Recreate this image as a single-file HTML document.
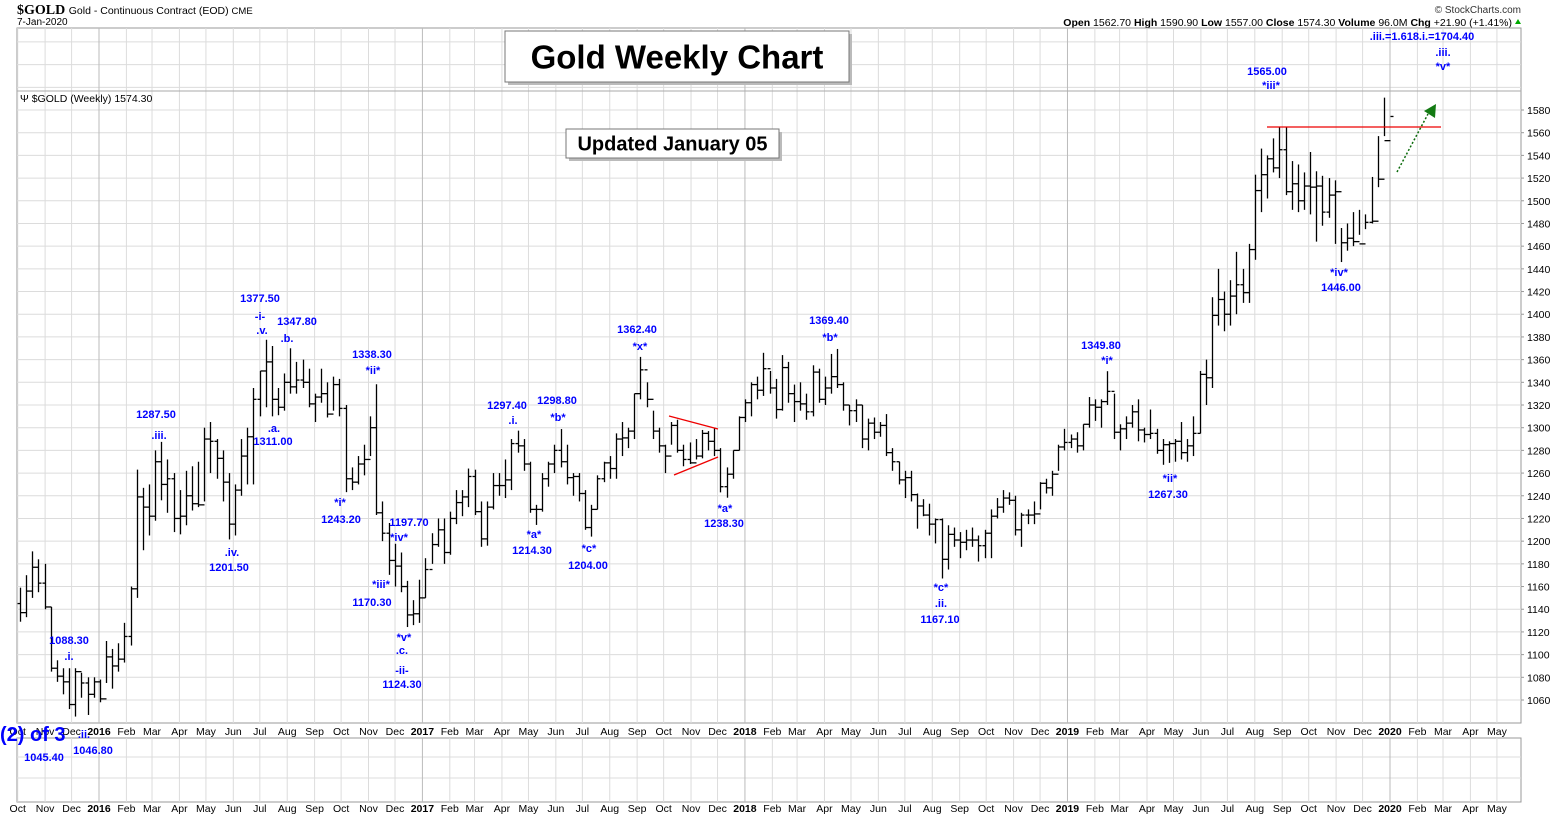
<!DOCTYPE html>
<html><head><meta charset="utf-8">
<style>
html,body{margin:0;padding:0;background:#fff;}
svg{display:block;font-family:"Liberation Sans",Arial,sans-serif;}
.ann{fill:#0000ff;font-weight:bold;font-size:11px;text-anchor:middle;}
.ax{font-size:10.5px;fill:#000;}
</style></head>
<body>
<svg id="chart" width="1565" height="817" viewBox="0 0 1565 817" xmlns="http://www.w3.org/2000/svg">
<g>
<text x="17" y="14" font-family="Liberation Serif,serif" font-weight="bold" font-size="14">$GOLD <tspan font-family="Liberation Sans,sans-serif" font-weight="normal" font-size="10.5">Gold - Continuous Contract (EOD) <tspan font-size="9.5">CME</tspan></tspan></text>
<text x="17" y="25" font-size="10">7-Jan-2020</text>
<text x="1521" y="13" font-size="10" text-anchor="end" fill="#333">© StockCharts.com</text>
<text x="1512" y="26" font-size="10.5" text-anchor="end"><tspan font-weight="bold">Open</tspan> 1562.70 <tspan font-weight="bold">High</tspan> 1590.90 <tspan font-weight="bold">Low</tspan> 1557.00 <tspan font-weight="bold">Close</tspan> 1574.30 <tspan font-weight="bold">Volume</tspan> 96.0M <tspan font-weight="bold">Chg</tspan> +21.90 (+1.41%)</text>
<polygon points="1515,24 1521,24 1518,19" fill="#0a0"/>
</g>
<g id="grid"></g>
<g id="bars"></g>
<g id="overlay"></g>
</svg>
<script>
// weekly bars, Oct 2015 .. Jan 2020
const highs=[1159,1170,1191,1184,1180,1142,1095,1088,1088,1088,1084,1080,1080,1078,1112,1105,1110,1128,1160,1263,1247,1250,1280,1287.5,1272,1260,1245,1262,1266,1270,1300,1305,1290,1280,1260,1250,1290,1300,1335,1350,1377.5,1372,1335,1347.8,1370,1358,1360,1352,1330,1352,1340,1345,1343,1320,1265,1275,1285,1310,1338.3,1235,1216,1197.7,1190,1165,1148,1166,1185,
1207,1220,1220,1226,1245,1245,1264,1263,1235,1235,1260,1260,1272,1290,1297.4,1290,1270,1232,1260,1270,1285,1298.8,1285,1260,1260,1245,1232,1258,1270,1275,1295,1305,1300,1330,1362.4,1340,1315,1300,1285,1305,1307,1285,1287,1290,1298,1297,1300,1282,1265,1280,1310,
1325,1340,1345,1366,1350,1343,1364,1358,1338,1340,1330,1355,1352,1345,1365,1369.4,1340,1320,1325,1320,1308,1309,1305,1312,1282,1270,1262,1262,1242,1237,1233,1220,1220,1214,1212,1208,1210,1212,1205,1210,1228,1238,1245,1243,1240,1225,1228,1235,1252,1255,1262,1285,
1299,1294,1296,1303,1327,1325,1325,1349.8,1330,1303,1310,1320,1325,1300,1316,1299,1290,1288,1290,1305,1290,1310,1350,1360,1415,1440,1420,1430,1455,1440,1462,1523,1546,1540,1555,1565,1565,1535,1532,1525,1543,1526,1522,1520,1518,1476,1480,1490,1492,1488,1521,1557,1590.9];
const lows=[1129,1133,1150,1155,1140,1085,1076,1065,1052,1045.4,1062,1046.8,1062,1058,1075,1070,1085,1093,1108,1150,1192,1205,1218,1236,1225,1208,1206,1214,1227,1230,1235,1260,1255,1235,1201.5,1205,1240,1250,1250,1310,1318,1310,1311,1315,1330,1330,1335,1318,1305,1322,1309,1315,1310,1243.2,1245,1250,1258,1275,1223,1200,1170.3,1160,1155,1124.3,1126,1128,1150,
1180,1195,1180,1188,1215,1222,1230,1223,1195,1196,1228,1240,1238,1245,1278,1262,1225,1214.3,1226,1248,1260,1265,1250,1240,1235,1210,1204,1228,1252,1255,1255,1275,1282,1290,1325,1318,1290,1278,1260,1285,1278,1266,1268,1272,1273,1280,1275,1243,1238.3,1255,1280,
1305,1310,1325,1328,1330,1308,1315,1322,1305,1315,1307,1310,1322,1320,1330,1335,1315,1302,1305,1282,1280,1290,1292,1275,1262,1250,1238,1235,1211,1222,1205,1198,1167.1,1175,1195,1185,1192,1195,1182,1185,1185,1220,1225,1232,1205,1195,1215,1215,1228,1242,1240,1262,
1280,1282,1278,1280,1300,1306,1300,1320,1290,1280,1290,1300,1288,1287,1290,1277,1267.3,1269,1270,1272,1270,1275,1295,1320,1335,1390,1385,1390,1400,1410,1410,1448,1490,1502,1525,1520,1505,1492,1490,1492,1488,1464,1478,1485,1462,1446,1456,1460,1470,1475,1480,1512,1557];
const closes=[1137,1156,1177,1163,1142,1088,1081,1076,1056,1085,1075,1065,1076,1061,1098,1090,1096,1116,1158,1239,1230,1222,1270,1250,1255,1220,1222,1240,1233,1232,1290,1288,1273,1252,1215,1245,1275,1292,1325,1350,1358,1325,1318,1340,1336,1342,1340,1321,1327,1330,1312,1338,1317,1255,1252,1268,1272,1300,1225,1207,1183,1178,1160,1135,1136,1150,1175,
1197,1210,1190,1220,1234,1239,1257,1226,1202,1230,1249,1249,1254,1286,1284,1268,1228,1228,1255,1268,1280,1270,1256,1257,1242,1212,1228,1255,1269,1264,1290,1291,1297,1330,1351,1325,1297,1284,1275,1302,1280,1272,1269,1275,1295,1288,1280,1248,1259,1280,1309,
1322,1338,1333,1352,1335,1316,1353,1330,1323,1321,1314,1349,1325,1335,1345,1338,1320,1315,1320,1290,1304,1296,1302,1278,1270,1254,1256,1241,1231,1223,1215,1219,1184,1206,1201,1199,1201,1201,1196,1207,1222,1230,1238,1236,1210,1223,1223,1224,1251,1247,1259,1283,
1287,1290,1284,1303,1320,1318,1323,1332,1296,1299,1304,1314,1298,1294,1295,1280,1285,1286,1288,1278,1284,1295,1347,1344,1399,1413,1400,1416,1426,1419,1457,1509,1523,1537,1529,1545,1508,1515,1500,1513,1512,1513,1490,1505,1508,1463,1467,1464,1462,1481,1482,1519,1553,1574.3];
const firstOpen=1145;
const yTicks=[1060,1080,1100,1120,1140,1160,1180,1200,1220,1240,1260,1280,1300,1320,1340,1360,1380,1400,1420,1440,1460,1480,1500,1520,1540,1560,1580];
const monthLabels=["Oct","Nov","Dec","2016","Feb","Mar","Apr","May","Jun","Jul","Aug","Sep","Oct","Nov","Dec","2017","Feb","Mar","Apr","May","Jun","Jul","Aug","Sep","Oct","Nov","Dec","2018","Feb","Mar","Apr","May","Jun","Jul","Aug","Sep","Oct","Nov","Dec","2019","Feb","Mar","Apr","May","Jun","Jul","Aug","Sep","Oct","Nov","Dec","2020","Feb","Mar","Apr","May"];

const NS="http://www.w3.org/2000/svg";
const L=17,R=1521,TOP=28,BOT=723;
function y(p){return 700-(p-1060)*1.1346;}
const n=closes.length;
function x(i){return 20+i*(1390-20)/(n-1);}
function xm(k){
  const d=new Date(Date.UTC(2015,9+k,1));
  return 99+(d-Date.UTC(2016,0,1))/86400000/365.25*322.75;
}
function mk(tag,attrs,parent){const e=document.createElementNS(NS,tag);for(const k in attrs)e.setAttribute(k,attrs[k]);parent.appendChild(e);return e;}
const grid=document.getElementById('grid'),bars=document.getElementById('bars'),ov=document.getElementById('overlay');

let e=mk('rect',{x:L,y:TOP,width:R-L,height:BOT-TOP,fill:'#fff',stroke:'#999'},grid);


e=mk('rect',{x:L,y:738,width:R-L,height:64,fill:'#fff',stroke:'#999'},grid);


for(let p=1060;p<=1660;p+=20){const yy=y(p);if(yy<TOP||yy>BOT)continue;
  e=mk('line',{x1:L,x2:R,y1:yy,y2:yy,stroke:'#dcdcdc'},grid);
  
  }
[757,778].forEach(yy=>{e=mk('line',{x1:L,x2:R,y1:yy,y2:yy,stroke:'#dcdcdc'},grid);
  
  });
monthLabels.forEach((lab,k)=>{const xx=xm(k);if(xx>R)return;
  const yr=/^\d{4}$/.test(lab);
  e=mk('line',{x1:xx,x2:xx,y1:TOP,y2:BOT,stroke:yr?'#bbb':'#dcdcdc'},grid);
  
  
  e=mk('line',{x1:xx,x2:xx,y1:738,y2:802,stroke:yr?'#bbb':'#dcdcdc'},grid);
  
  
  [735,812].forEach(ty=>{
    const t=mk('text',{x:xx,y:ty,'text-anchor':'middle',class:'ax','font-weight':yr?'bold':'normal'},grid);
    t.textContent=lab;
    
    });
});
e=mk('line',{x1:L,x2:R,y1:91,y2:91,stroke:'#aaa'},grid);


yTicks.forEach(p=>{const t=mk('text',{x:1527,y:y(p)+4,class:'ax'},grid);t.textContent=p;
  
  
  e=mk('line',{x1:R,x2:R+3,y1:y(p),y2:y(p),stroke:'#999'},grid);
  
  });
let t=mk('text',{x:20,y:102,'font-size':'10.5'},grid);t.textContent='\u03A8 $GOLD (Weekly) 1574.30';



for(let i=0;i<n;i++){
  const xx=Math.round(x(i))+0.5,op=i?closes[i-1]:firstOpen;
  const g=mk('g',{stroke:'#000','stroke-width':1.3},bars);
  
  
  mk('line',{x1:xx,x2:xx,y1:y(highs[i]),y2:y(lows[i])},g);
  mk('line',{x1:xx-3,x2:xx,y1:y(op),y2:y(op)},g);
  mk('line',{x1:xx,x2:xx+3,y1:y(closes[i]),y2:y(closes[i])},g);
}

const anns=[["1088.30",69,644],[".i.",69,660],["1045.40",44,761],[".ii.",84,738],["1046.80",93,754],
["1287.50",156,418],[".iii.",159,439],["1377.50",260,302],["-i-",260,320],[".v.",262,334],["1347.80",297,325],[".b.",287,342],
[".a.",274,432],["1311.00",273,445],[".iv.",232,556],["1201.50",229,571],["1338.30",372,358],["*ii*",373,374],
["*i*",340,506],["1243.20",341,523],["1197.70",409,526],["*iv*",399,541],["*iii*",381,588],["1170.30",372,606],
["*v*",404,641],[".c.",402,654],["-ii-",402,674],["1124.30",402,688],["1297.40",507,409],[".i.",513,424],
["1298.80",557,404],["*b*",558,421],["*a*",534,538],["1214.30",532,554],["*c*",589,552],["1204.00",588,569],
["1362.40",637,333],["*x*",640,350],["*a*",725,512],["1238.30",724,527],["1369.40",829,324],["*b*",830,341],
["*c*",941,591],[".ii.",941,607],["1167.10",940,623],["1349.80",1101,349],["*i*",1107,364],["*ii*",1170,482],["1267.30",1168,498],
["1565.00",1267,75],["*iii*",1271,89],["*iv*",1339,276],["1446.00",1341,291],[".iii.=1.618.i.=1704.40",1422,40],[".iii.",1443,56],["*v*",1443,70]];
anns.forEach(a=>{const t=mk('text',{x:a[1],y:a[2],class:'ann'},ov);t.textContent=a[0];
  
  });
t=mk('text',{x:0,y:741,fill:'#0000ff','font-weight':'bold','font-size':'20'},ov);t.textContent='(2) of 3';



[[669,416,718,429],[674,475,718,457],[1267,127,1441,127]].forEach(s=>{
  e=mk('line',{x1:s[0],y1:s[1],x2:s[2],y2:s[3],stroke:'#e00','stroke-width':1.3},ov);
  
  });
e=mk('line',{x1:1397,y1:172,x2:1428,y2:114,stroke:'#0a6a0a','stroke-width':1.5,'stroke-dasharray':'2,2'},ov);


e=mk('polygon',{points:'1424,111 1436,104 1435,118',fill:'#137a13'},ov);



function box(x0,y0,w,h,txt,fs,name){
  let r=mk('rect',{x:x0+3,y:y0+3,width:w,height:h,fill:'#bbb'},ov);
  
  
  r=mk('rect',{x:x0,y:y0,width:w,height:h,fill:'#fff',stroke:'#777'},ov);
  
  
  const tt=mk('text',{x:x0+w/2,y:y0+h/2+fs*0.36,'text-anchor':'middle','font-weight':'bold','font-size':fs},ov);
  tt.textContent=txt;
  
  
}
box(505,31,344,51,'Gold Weekly Chart',33,'chart-title');
box(566,129,213,29,'Updated January 05',20,'update-note');
</script>
</body></html>
